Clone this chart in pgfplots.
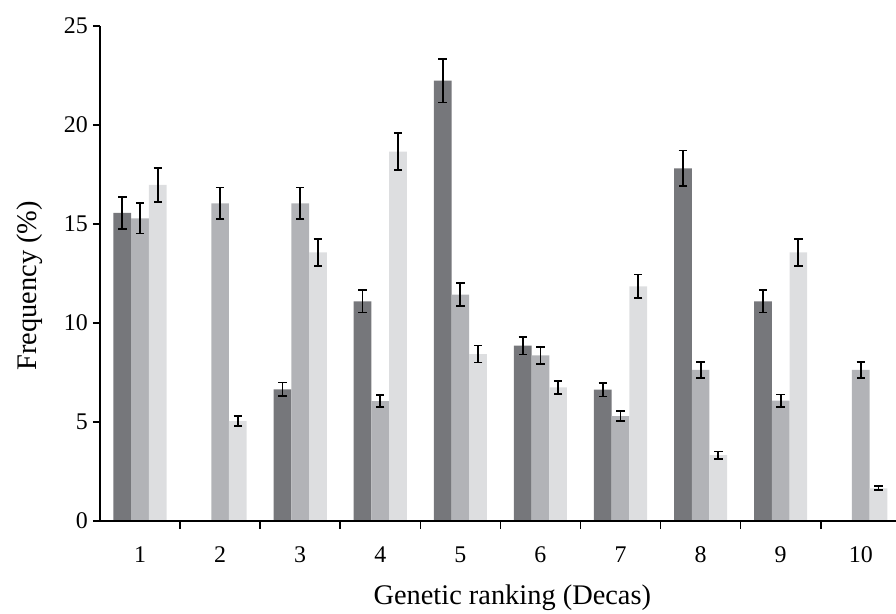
\documentclass[border=0pt]{standalone}
\usepackage{fontspec}
\setmainfont{Liberation Serif}
\usepackage{pgfplots}
\usepackage{pgfplotstable}
\pgfplotsset{compat=1.18}

\definecolor{bardark}{HTML}{76777B}
\definecolor{barmid}{HTML}{B2B3B7}
\definecolor{barlight}{HTML}{DDDEE0}

% decile, frequency (%), error
\pgfplotstableread{
x y e
1 15.56 0.80
3 6.65 0.34
4 11.09 0.56
5 22.24 1.10
6 8.86 0.45
7 6.63 0.34
8 17.81 0.90
9 11.09 0.56
}\darkdata
\pgfplotstableread{
x y e
1 15.29 0.77
2 16.04 0.80
3 16.04 0.80
4 6.06 0.31
5 11.43 0.59
6 8.37 0.43
7 5.30 0.26
8 7.63 0.39
9 6.08 0.31
10 7.63 0.39
}\middata
\pgfplotstableread{
x y e
1 16.97 0.85
2 5.05 0.26
3 13.57 0.69
4 18.65 0.94
5 8.43 0.43
6 6.75 0.34
7 11.85 0.60
8 3.33 0.18
9 13.57 0.69
10 1.65 0.10
}\lightdata

\begin{document}
\begin{tikzpicture}
\path[use as bounding box] (-100bp,-93bp) rectangle (796bp,521bp);
\begin{axis}[
    at={(0,0)}, anchor=south west,
    scale only axis,
    width=796bp, height=495bp,
    ybar,
    bar width=17.7bp,
    xmin=0.5, xmax=10.44,
    ymin=0, ymax=25,
    axis on top,
    axis x line*=bottom,
    axis y line*=left,
    axis line style={line width=2bp, black},
    tick align=outside,
    xtick={1,...,10},
    minor xtick={1.5,2.5,...,9.5},
    ytick={0,5,...,25},
    major tick length=7bp,
    minor tick length=8bp,
    major x tick style={draw=none},
    minor x tick style={line width=1.6bp, black},
    major y tick style={line width=1.6bp, black},
    /pgf/number format/assume math mode=true,
    ticklabel style={font=\fontsize{24}{28}\selectfont},
    xticklabel style={anchor=center, inner sep=0pt, yshift=-27bp},
    yticklabel style={anchor=east, inner sep=0pt, xshift=-5bp},
    label style={font=\fontsize{28.5}{32}\selectfont},
    xlabel={Genetic ranking (Decas)},
    ylabel={Frequency (\%)},
    xlabel style={at={(axis description cs:0.518,-0.1556)}, anchor=center},
    ylabel style={at={(axis description cs:-0.088,0.475)}, anchor=center},
    every axis plot/.append style={
        draw=none,
        error bars/y dir=both,
        error bars/y explicit,
        error bars/error bar style={line width=1.8bp, black},
        error bars/error mark options={rotate=90, mark size=4.2bp, line width=1.8bp, black},
    },
]
\addplot[fill=bardark, bar shift=-17.7bp] table[x=x, y=y, y error=e] {\darkdata};
\addplot[fill=barmid, bar shift=0bp] table[x=x, y=y, y error=e] {\middata};
\addplot[fill=barlight, bar shift=17.7bp] table[x=x, y=y, y error=e] {\lightdata};
\end{axis}
\end{tikzpicture}
\end{document}
